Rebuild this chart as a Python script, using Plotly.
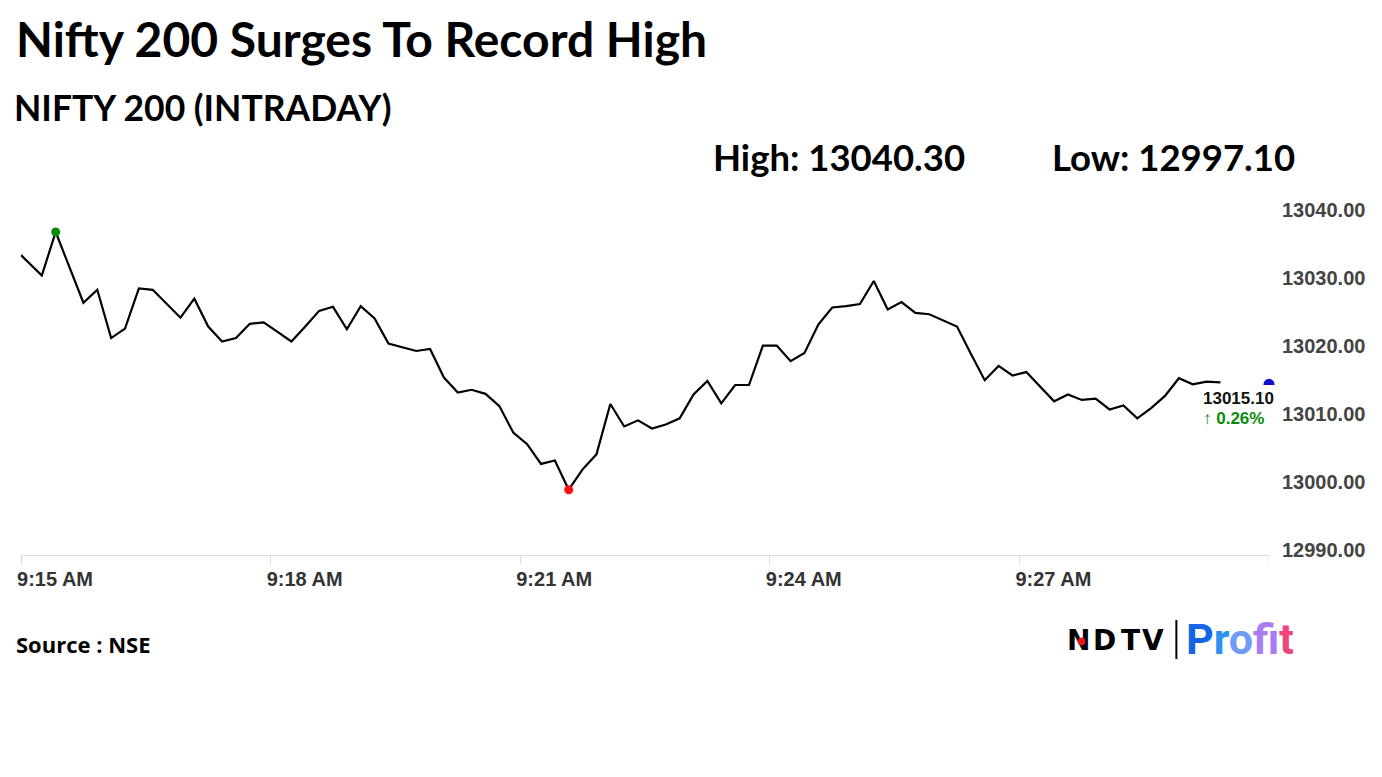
import plotly.graph_objects as go

# ---------------- data ----------------
DAY = "2024-01-01 "
times = [
    "09:15:00", "09:15:15", "09:15:25", "09:15:35", "09:15:45", "09:15:55",
    "09:16:05", "09:16:15", "09:16:25", "09:16:35", "09:16:45", "09:16:55",
    "09:17:05", "09:17:15", "09:17:25", "09:17:35", "09:17:45", "09:17:55",
    "09:18:05", "09:18:15", "09:18:25", "09:18:35", "09:18:45", "09:18:55",
    "09:19:05", "09:19:15", "09:19:25", "09:19:35", "09:19:45", "09:19:55",
    "09:20:05", "09:20:15", "09:20:25", "09:20:35", "09:20:45", "09:20:55",
    "09:21:05", "09:21:15", "09:21:25", "09:21:35", "09:21:45", "09:21:55",
    "09:22:05", "09:22:15", "09:22:25", "09:22:35", "09:22:45", "09:22:55",
    "09:23:05", "09:23:15", "09:23:25", "09:23:35", "09:23:45", "09:23:55",
    "09:24:05", "09:24:15", "09:24:25", "09:24:35", "09:24:45", "09:24:55",
    "09:25:05", "09:25:15", "09:25:25", "09:25:35", "09:25:45", "09:25:55",
    "09:26:05", "09:26:15", "09:26:25", "09:26:35", "09:26:45", "09:26:55",
    "09:27:05", "09:27:15", "09:27:25", "09:27:35", "09:27:45", "09:27:55",
    "09:28:05", "09:28:15", "09:28:25", "09:28:35", "09:28:45", "09:28:55",
    "09:29:05", "09:29:15", "09:29:25",
]
values = [
    13034.1, 13031.1, 13037.5, 13032.2, 13027.1, 13029.0,
    13021.9, 13023.3, 13029.2, 13029.0, 13026.9, 13024.9,
    13027.7, 13023.6, 13021.4, 13021.9, 13024.0, 13024.2,
    13022.8, 13021.4, 13023.6, 13025.9, 13026.5, 13023.2,
    13026.6, 13024.8, 13021.1, 13020.6, 13020.0, 13020.3,
    13016.1, 13013.9, 13014.3, 13013.7, 13011.9, 13008.0,
    13006.3, 13003.4, 13003.9, 12999.6, 13002.6, 13004.8,
    13012.2, 13008.9, 13009.8, 13008.6, 13009.2, 13010.1,
    13013.6, 13015.6, 13012.3, 13015.0, 13015.0, 13020.8,
    13020.8, 13018.5, 13019.7, 13023.9, 13026.4, 13026.6,
    13026.9, 13030.3, 13026.1, 13027.2, 13025.6, 13025.4,
    13024.5, 13023.6, 13019.6, 13015.7, 13017.8, 13016.4,
    13016.9, 13014.7, 13012.6, 13013.6, 13012.8, 13013.0,
    13011.4, 13012.0, 13010.1, 13011.6, 13013.4, 13016.0,
    13015.1, 13015.5, 13015.4,
]
title_text = "Nifty 200 Surges To Record High"
subtitle_text = "NIFTY 200 (INTRADAY)"
high_text = "High: 13040.30"
low_text = "Low: 12997.10"
source_text = "Source : NSE"
last_price = 13015.10
change_pct = 0.26
close_time = "09:30:00"
ytick_vals = [12990, 13000, 13010, 13020, 13030, 13040]
xtick_vals = ["09:15:00", "09:18:00", "09:21:00", "09:24:00", "09:27:00"]
xtick_text = ["9:15 AM", "9:18 AM", "9:21 AM", "9:24 AM", "9:27 AM"]
ndtv_letters = ["N", "D", "T", "V"]
profit_letters = ["P", "r", "o", "f", "i", "t"]
profit_colors = ["#1565e6", "#2a93ef", "#6f9cf6", "#a87cf2", "#e052e6", "#f2447c"]

# ---------------- layout geometry (screen pixels; page body has an 8px margin) ----------------
OFF = 8
W, H = 1366, 761
L, R, T, B = 9, 104, 173, 214
PW = W - L - R
PH = H - T - B


def px(x):
    return (x - OFF - L) / PW


def py(y):
    return (H - B - (y - OFF)) / PH


xs = [DAY + t for t in times]
hi_i = max(range(len(values)), key=lambda i: values[i])
lo_i = min(range(len(values)), key=lambda i: values[i])

fig = go.Figure()
fig.add_trace(go.Scatter(
    x=xs, y=values, mode="lines",
    line=dict(color="#000000", width=2.2),
    hoverinfo="x+y", showlegend=False,
))
fig.add_trace(go.Scatter(
    x=[xs[hi_i]], y=[values[hi_i]], mode="markers",
    marker=dict(color="#0a8a0a", size=9), showlegend=False, cliponaxis=False,
))
fig.add_trace(go.Scatter(
    x=[xs[lo_i]], y=[values[lo_i]], mode="markers",
    marker=dict(color="#ff1010", size=9), showlegend=False, cliponaxis=False,
))
fig.add_trace(go.Scatter(
    x=[DAY + close_time], y=[last_price], mode="markers",
    marker=dict(color="#1010c8", size=11), showlegend=False, cliponaxis=False,
))

ann = []
big = "Lato"
ann.append(dict(text=f"<b>{title_text}</b>", x=px(10), y=py(38), xanchor="left", yanchor="middle",
                font=dict(family=big, size=48, color="#000")))
ann.append(dict(text=f"<b>{subtitle_text}</b>", x=px(8), y=py(107), xanchor="left", yanchor="middle",
                font=dict(family=big, size=35.5, color="#000")))
ann.append(dict(text=f"<b>{high_text}</b>", x=px(710), y=py(157), xanchor="left", yanchor="middle",
                font=dict(family=big, size=36.5, color="#000")))
ann.append(dict(text=f"<b>{low_text}</b>", x=px(1050), y=py(157), xanchor="left", yanchor="middle",
                font=dict(family=big, size=36.5, color="#000")))
ann.append(dict(text=f"<b>{source_text}</b>", x=px(10), y=py(644), xanchor="left", yanchor="middle",
                font=dict(family="Open Sans", size=22, color="#000")))
ann.append(dict(text=f"<b>{last_price:.2f}</b>", x=px(1277), y=py(398), xanchor="right", yanchor="middle",
                font=dict(family="Liberation Sans", size=17, color="#111")))
ann.append(dict(text=f"<b>\u2191 {change_pct:.2f}%</b>", x=px(1267), y=py(418), xanchor="right", yanchor="middle",
                font=dict(family="Liberation Sans", size=17, color="#0a8a0a")))
# logo
for ch, cx in zip(ndtv_letters, [1079, 1105, 1131, 1154]):
    ann.append(dict(text=f"<b>{ch}</b>", x=px(cx), y=py(640), xanchor="center", yanchor="middle",
                    font=dict(family="DejaVu Sans", size=28, color="#000")))
ann.append(dict(text="\u25cf", x=px(1082), y=py(640), xanchor="center", yanchor="middle",
                font=dict(family="DejaVu Sans", size=10, color="#e8141e")))
profit_html = "".join(f"<span style='color:{c}'>{ch}</span>" for ch, c in zip(profit_letters, profit_colors))
ann.append(dict(text=f"<b>{profit_html}</b>", x=px(1185), y=py(639), xanchor="left", yanchor="middle",
                font=dict(family="Roboto", size=43, color="#1565e6")))
for a in ann:
    a.update(xref="paper", yref="paper", showarrow=False)

shapes = [
    dict(type="line", xref="paper", yref="paper", x0=px(1177), x1=px(1177), y0=py(620), y1=py(659),
         line=dict(color="#000", width=2)),
    # white mask hiding the lower half of the closing-price dot, as in the original
    dict(type="rect", xref="paper", yref="paper", layer="above", x0=px(1261), x1=px(1280),
         y0=py(392), y1=py(385), fillcolor="#ffffff", line=dict(width=0)),
    # tick mark at the session close (unlabelled)
    dict(type="line", xref="x", yref="paper", x0=DAY + close_time, x1=DAY + close_time,
         y0=0, y1=-8 / PH, line=dict(color="#dddddd", width=1)),
]

fig.update_layout(
    width=W, height=H, autosize=False,
    margin=dict(l=L, r=R, t=T, b=B, pad=0),
    paper_bgcolor="#ffffff", plot_bgcolor="#ffffff",
    annotations=ann, shapes=shapes,
    xaxis=dict(
        type="date", range=[DAY + "09:15:00", DAY + close_time],
        tickvals=[DAY + t for t in xtick_vals], ticktext=xtick_text,
        showgrid=False, zeroline=False,
        showline=True, linecolor="#dddddd", linewidth=1,
        ticks="outside", ticklen=8, tickcolor="#dddddd", tickwidth=1,
        tickfont=dict(family="Liberation Sans", size=20, color="#333333", weight="bold"),
        ticklabelshift=34, ticklabelstandoff=-2,
    ),
    yaxis=dict(
        side="right", range=[12990, 13045],
        tickvals=ytick_vals, ticktext=[f"{v:.2f}" for v in ytick_vals],
        showgrid=False, zeroline=False, showline=False, ticks="",
        tickfont=dict(family="Liberation Sans", size=20, color="#444444", weight="bold"),
        ticklabelshift=-5, ticklabelstandoff=12,
    ),
    hovermode="closest",
)

fig.write_html("out.html")
